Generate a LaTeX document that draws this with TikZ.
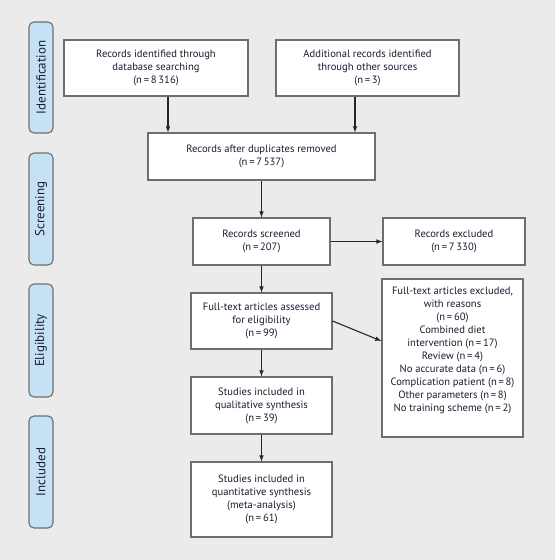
\documentclass[tikz,border=0pt]{standalone}
\usepackage{fontspec}
\setmainfont{PT Sans}
\usepackage{tikz}
\definecolor{pagegray}{HTML}{EBEBEB}
\definecolor{boxgray}{HTML}{6E6E6E}
\definecolor{stageblue}{HTML}{C4E2F4}
\definecolor{textnavy}{HTML}{1B1B30}
\newcommand{\nn}[1]{(n\,=\,#1)}

\tikzset{
  flowbox/.style = {draw = boxgray, fill = white, line width = 1.2pt, align = center,
                    inner sep = 0pt, text = textnavy, font = \fontsize{10.6}{13}\selectfont},
  stage/.style = {draw = boxgray, fill = stageblue, line width = 1.1pt, rounded corners = 5pt,
                  rotate = 90, inner sep = 0pt, minimum height = 24pt, text = textnavy,
                  font = \fontsize{13}{14}\selectfont},
  arr/.style = {-latex, line width = 1.1pt, draw = black!85}
}

\begin{document}
\begin{tikzpicture}[x = 1pt, y = -1pt]
        \fill[pagegray] (0, 0) rectangle (555, 560);
        \useasboundingbox (0, 0) rectangle (555, 560);

        % phases on the left
        \node[stage, minimum width = 111pt] (ident) at (41, 77.5) {Identification};
        \node[stage, minimum width = 112pt] (screen) at (41, 209) {Screening};
        \node[stage, minimum width = 113pt] (elig) at (41, 340.5) {Eligibility};
        \node[stage, minimum width = 112pt] (incl) at (41, 472) {Included};

        % flow boxes
        \node[flowbox, minimum width = 184pt, minimum height = 56pt] (dbsearch) at (156, 68)
          {Records identified through\\database searching\\\nn{8\,316}};
        \node[flowbox, minimum width = 183pt, minimum height = 56pt] (othersrc) at (367.5, 68)
          {Additional records identified\\through other sources\\\nn{3}};
        \node[flowbox, minimum width = 227pt, minimum height = 47pt] (dupremoved) at (261.5, 156.5)
          {Records after duplicates removed\\\nn{7\,537}};
        \node[flowbox, minimum width = 137pt, minimum height = 47pt] (screened) at (261.5, 241.5)
          {Records screened\\\nn{207}};
        \node[flowbox, minimum width = 142pt, minimum height = 47pt] (recexcl) at (454, 241.5)
          {Records excluded\\\nn{7\,330}};
        \node[flowbox, minimum width = 141pt, minimum height = 56pt] (fulltext) at (261.5, 321)
          {Full-text articles assessed\\for eligibility\\\nn{99}};
        \node[flowbox, minimum width = 141pt, minimum height = 158pt] (ftexcl) at (452.5, 358)
          {Full-text articles excluded,\\with reasons\\\nn{60}\\Combined diet\\intervention \nn{17}\\
           Review \nn{4}\\No accurate data \nn{6}\\Complication patient \nn{8}\\
           Other parameters \nn{8}\\No training scheme \nn{2}\\[4pt]};
        \node[flowbox, minimum width = 141pt, minimum height = 57pt] (qualit) at (261.5, 405.5)
          {Studies included in\\qualitative synthesis\\\nn{39}};
        \node[flowbox, minimum width = 141pt, minimum height = 75pt] (quantit) at (261.5, 499.5)
          {Studies included in\\quantitative synthesis\\(meta-analysis)\\\nn{61}};

        % connectors
        \draw[arr] ([xshift = 12pt]dbsearch.south) -- ([xshift = 12pt]dbsearch.south |- dupremoved.north);
        \draw[arr] ([xshift = -12.5pt]othersrc.south) -- ([xshift = -12.5pt]othersrc.south |- dupremoved.north);
        \draw[arr] (dupremoved.south) -- (screened.north);
        \draw[arr] (screened.east) -- (recexcl.west);
        \draw[arr] (screened.south) -- (fulltext.north);
        \draw[arr] (fulltext.east) -- ([yshift = 17pt]ftexcl.west);
        \draw[arr] (fulltext.south) -- (qualit.north);
        \draw[arr] (qualit.south) -- (quantit.north);

      \end{tikzpicture}
\end{document}
